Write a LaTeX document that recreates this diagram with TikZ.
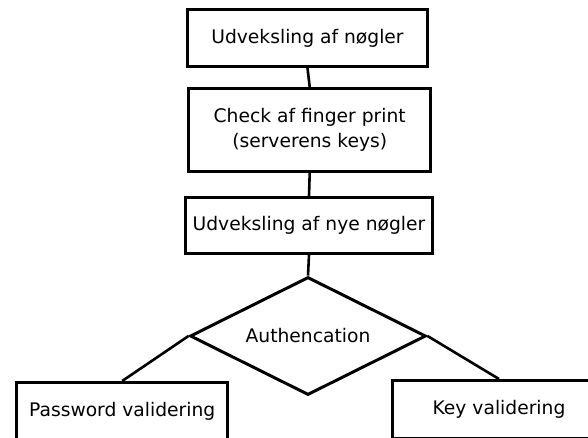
\documentclass[tikz,border=0pt]{standalone}
\usepackage{fontspec}
\setmainfont{DejaVu Sans}
\usetikzlibrary{shapes.geometric}
\tikzset{
    % Steps
    knode/.style={rectangle, draw=black, line width=3pt, fill=white,
                 inner sep=0pt, align=center, font=\fontsize{18.7}{25}\selectfont},
    % Decision
    kdecide/.style={diamond, aspect=2, draw=black, line width=3pt, fill=white,
                 inner sep=0pt, align=center, font=\fontsize{18.7}{25}\selectfont},
    kline/.style={line width=2.6pt, black},
}
\begin{document}
\begin{tikzpicture}[x=1pt, y=-1pt]
\useasboundingbox (0,0) rectangle (588,438);
\clip (0,0) rectangle (588,438);

\node[knode, minimum width=240pt, minimum height=57pt]   (swap)   at (307.5,38)    {Udveksling af nøgler};
\node[knode, minimum width=241.5pt, minimum height=83pt] (finger) at (309.7,130)   {Check af finger print\\(serverens keys)};
\node[knode, minimum width=247pt, minimum height=56pt]   (newkey) at (309,225.5)   {Udveksling af nye nøgler};
\node[kdecide, minimum width=236pt, minimum height=118pt] (auth)  at (308,336)     {Authencation};
\node[knode, minimum width=211.5pt, minimum height=58pt] (pwd)    at (122.2,411.5) {Password validering};
\node[knode, minimum width=214pt, minimum height=58pt]   (keyval) at (499,409.5)   {Key validering};

\draw[kline] (swap.south) -- (finger.north);
\draw[kline] (finger.south) -- (newkey.north);
\draw[kline] (newkey.south) -- (auth.north);
\draw[kline] (auth.west) -- (pwd.north);
\draw[kline] (auth.east) -- (keyval.north);
\end{tikzpicture}
\end{document}
